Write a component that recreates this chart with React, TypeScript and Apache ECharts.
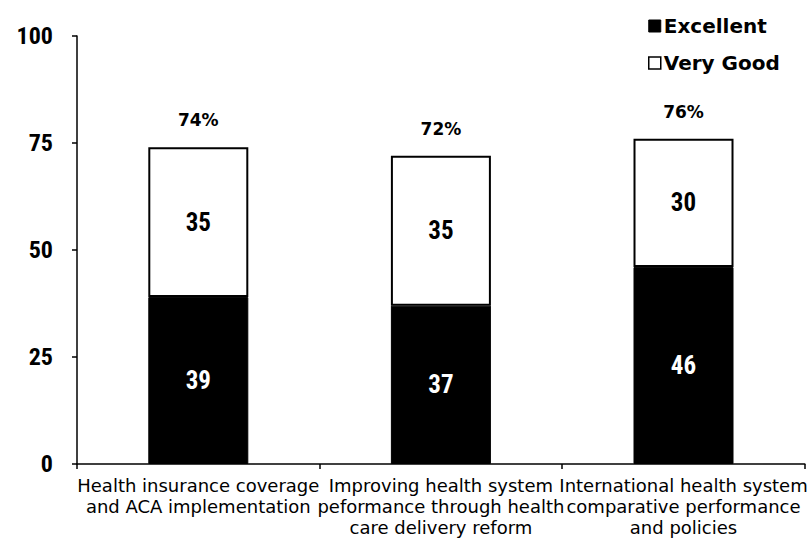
import React, { useEffect, useRef } from "react";
import * as echarts from "echarts";

const categories = [
  "Health insurance coverage\nand ACA implementation",
  "Improving health system\npeformance through health\ncare delivery reform",
  "International health system\ncomparative performance\nand policies",
];
const excellent = [39, 37, 46];
const veryGood = [35, 35, 30];
const totals = [74, 72, 76];
const yTicks = [0, 25, 50, 75, 100];

const NARROW = "'Liberation Sans Narrow', 'Roboto Condensed', 'Liberation Sans', Arial, sans-serif";
const WIDE = "'DejaVu Sans', 'Liberation Sans', Arial, sans-serif";

export default function App() {
  const ref = useRef<HTMLDivElement>(null);
  useEffect(() => {
    if (!ref.current) return;
    const chart = echarts.init(ref.current, undefined, { renderer: "svg" });
    chart.setOption({
      animation: false,
      backgroundColor: "#ffffff",
      grid: { left: 77, right: 1, top: 36, bottom: 78 },
      legend: {
        data: [
          { name: "Excellent", itemStyle: { color: "#000", borderColor: "#000", borderWidth: 1 } },
          { name: "Very Good", itemStyle: { color: "#fff", borderColor: "#000", borderWidth: 1.5 } },
        ],
        orient: "vertical",
        left: 643,
        top: 11,
        itemWidth: 12,
        itemHeight: 12,
        itemGap: 17,
        icon: "rect",
        textStyle: { fontFamily: WIDE, fontWeight: "bold", fontSize: 20, color: "#000", padding: [0, 0, 0, -2] },
      },
      xAxis: {
        type: "category",
        data: categories,
        axisLine: { lineStyle: { color: "#000", width: 1.5 } },
        axisTick: { show: true, length: 5, lineStyle: { color: "#000", width: 1.5 } },
        axisLabel: {
          color: "#000",
          fontFamily: WIDE,
          fontSize: 18,
          lineHeight: 21,
          margin: 11,
          interval: 0,
        },
      },
      yAxis: {
        type: "value",
        min: 0,
        max: 100,
        interval: 25,
        splitLine: { show: false },
        axisLine: { show: true, lineStyle: { color: "#000", width: 1.5 } },
        axisTick: { show: true, length: 5, lineStyle: { color: "#000", width: 1.5 } },
        axisLabel: {
          color: "#000",
          fontFamily: NARROW,
          fontWeight: "bold",
          fontSize: 24,
          margin: 24,
          formatter: (v: number) => (yTicks.includes(v) ? String(v) : ""),
        },
      },
      series: [
        {
          name: "Excellent",
          type: "bar",
          stack: "s",
          data: excellent,
          barWidth: 100,
          itemStyle: { color: "#000", borderColor: "#000", borderWidth: 1 },
          label: {
            show: true,
            position: "inside",
            color: "#fff",
            fontFamily: NARROW,
            fontWeight: "bold",
            fontSize: 25,
          },
        },
        {
          name: "Very Good",
          type: "bar",
          stack: "s",
          data: veryGood,
          barWidth: 100,
          itemStyle: { color: "#fff", borderColor: "#000", borderWidth: 2 },
          label: {
            show: true,
            position: "inside",
            color: "#000",
            fontFamily: NARROW,
            fontWeight: "bold",
            fontSize: 25,
          },
        },
        {
          name: "Total",
          type: "scatter",
          data: totals,
          symbol: "circle",
          symbolSize: 1,
          symbolOffset: [0, -12],
          itemStyle: { color: "#ffffff", opacity: 1 },
          label: {
            show: true,
            position: "top",
            distance: 6,
            color: "#000000",
            opacity: 1,
            fontFamily: WIDE,
            fontWeight: "bold",
            fontSize: 17,
            formatter: (p: any) => p.value + "%",
          },
          silent: true,
          z: 5,
        },
      ],
    });
    return () => chart.dispose();
  }, []);
  return (
    <div
      ref={ref}
      style={{ position: "fixed", left: 0, top: 0, width: 810, height: 542, background: "#fff" }}
    />
  );
}
